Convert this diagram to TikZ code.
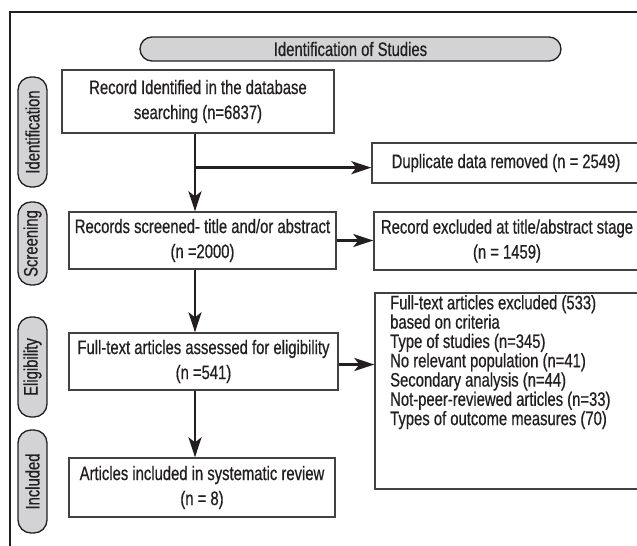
\documentclass[tikz,border=0pt]{standalone}
\usepackage{fontspec}
\setmainfont[FakeStretch=0.76,FakeBold=0.6]{Liberation Sans}
\usetikzlibrary{arrows.meta,calc}
\definecolor{pillgray}{HTML}{D3D3D5}
\definecolor{ink}{HTML}{231F20}
\begin{document}
\begin{tikzpicture}[x=1pt,y=-1pt,
  box/.style={draw=ink!85, line width=1.3pt, align=center, inner sep=0pt,
    font=\fontsize{19.5}{25}\selectfont, text=ink},
  pill/.style={draw=ink, line width=1.3pt, fill=pillgray, rounded corners=12pt,
    inner sep=0pt, font=\fontsize{19.5}{21}\selectfont, text=ink},
  sidepill/.style={pill, rotate=90, minimum height=29pt, rounded corners=13pt},
  conn/.style={line width=2.8pt, draw=ink, -{Stealth[length=20pt,width=13pt,inset=5pt]}},
  frame/.style={line width=2.8pt, draw=ink}]
\useasboundingbox (0,0) rectangle (637,546);
\clip (0,0) rectangle (637,546);
\fill[white] (0,0) rectangle (637,546);
% frame
\draw[frame] (10,600) -- (10,12) -- (700,12);
% header
\node[pill, minimum width=421pt, minimum height=24pt] (head) at (350.5,49) {Identification of Studies};
% side pills
\node[sidepill, minimum width=110pt] (pid) at (32.5,132) {Identification};
\node[sidepill, minimum width=83pt] (psc) at (32.5,243.5) {Screening};
\node[sidepill, minimum width=100pt] (pel) at (32.5,367) {Eligibility};
\node[sidepill, minimum width=103pt] (pin) at (32.5,481.5) {Included};
% main boxes
\node[box, minimum width=272pt, minimum height=63pt] (box1) at (198,101.5)
  {Record Identified in the database\\searching (n=6837)};
\node[box, minimum width=267pt, minimum height=57pt] (box2) at (202.5,240.5)
  {Records screened- title and/or abstract\\(n =2000)};
\node[box, minimum width=269pt, minimum height=57pt] (box4) at (203.5,361.5)
  {Full-text articles assessed for eligibility\\(n =541)};
\node[box, minimum width=266pt, minimum height=59pt] (box5) at (202,487.5)
  {Articles included in systematic review\\(n = 8)};
% right boxes
\node[box, minimum width=268pt, minimum height=40pt] (dup) at (506,163)
  {Duplicate data removed (n = 2549)};
\node[box, minimum width=266pt, minimum height=58pt] (box3) at (507,241)
  {Record excluded at title/abstract stage\\(n = 1459)};
\node[box, minimum width=290pt, minimum height=196pt] (crit) at (520,391) {};
\node[anchor=north west, align=left, inner sep=0pt, text=ink,
  font=\fontsize{19.5}{19.3}\selectfont] (crittext) at (390,295)
  {Full-text articles excluded (533)\\
   based on criteria\\
   Type of studies (n=345)\\
   No relevant population (n=41)\\
   Secondary analysis (n=44)\\
   Not-peer-reviewed articles (n=33)\\
   Types of outcome measures (70)};
% connectors
\coordinate (b1s) at ([xshift=-3pt]box1.south);
\coordinate (br) at ($(b1s)+(0,34)$);
\draw[conn] (b1s) -- (b1s |- box2.north);
\draw[conn] (br) -- (br -| dup.west);
\draw[conn] (box2.east) -- (box2.east -| box3.west);
\draw[conn] (box2.south -| b1s) -- (b1s |- box4.north);
\draw[conn] ([yshift=-3pt]box4.east) -- ([yshift=-3pt]box4.east -| crit.west);
\draw[conn] (box4.south -| b1s) -- (b1s |- box5.north);
\end{tikzpicture}
\end{document}
